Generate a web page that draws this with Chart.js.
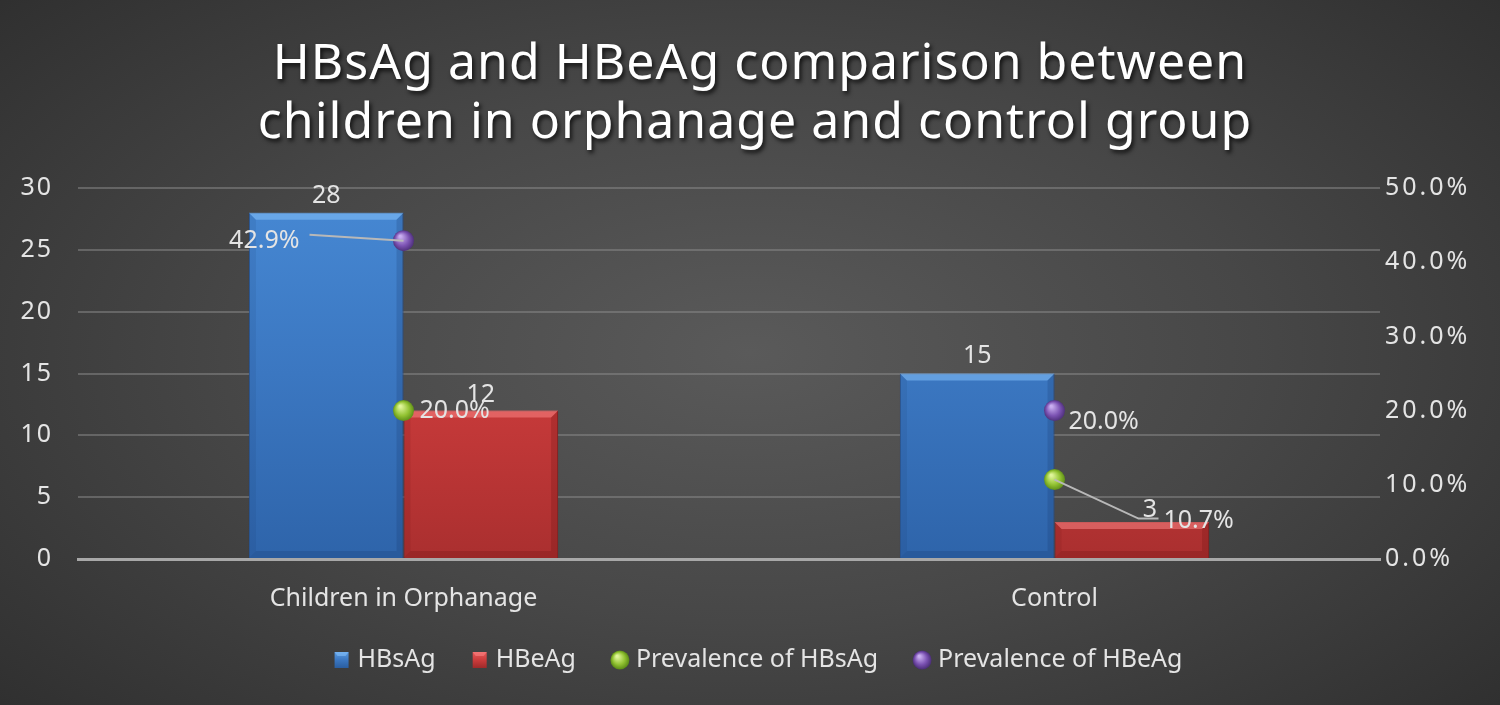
<!DOCTYPE html>
<html>
<head>
<meta charset="utf-8">
<script src="https://cdn.jsdelivr.net/npm/chart.js@4.4.0/dist/chart.umd.min.js"></script>
<style>
html,body{margin:0;padding:0;}
body{width:1500px;height:705px;overflow:hidden;background:radial-gradient(ellipse 75% 85% at 50% 50%, #5a5a5a 0%, #474747 45%, #2a2a2a 100%);}
#wrap{width:1500px;height:705px;position:relative;}
</style>
</head>
<body>
<div id="wrap"><canvas id="c" width="1500" height="705"></canvas></div>
<script>
const categories = ["Children in Orphanage", "Control"];
const hbsag = [28, 15];
const hbeag = [12, 3];
const prevHBsAg = [20.0, 10.7];
const prevHBeAg = [42.9, 20.0];
const leftTicks = [0, 5, 10, 15, 20, 25, 30];
const rightTicks = [0, 10, 20, 30, 40, 50];
const titleLines = ["HBsAg and HBeAg comparison between", "children in orphanage and control group"];

const FONT = "'Noto Sans', 'Open Sans', sans-serif";
const TXT = "#e4e4e4";

function barGrad(top, mid, bottom) {
  return function(context) {
    const chart = context.chart;
    const area = chart.chartArea;
    if (!area) return mid;
    const g = chart.ctx.createLinearGradient(0, area.top, 0, area.bottom);
    g.addColorStop(0, top);
    g.addColorStop(0.5, mid);
    g.addColorStop(1, bottom);
    return g;
  };
}
function ballGradAt(ctx, x, y, r, light, mid, dark) {
  const g = ctx.createRadialGradient(x - r * 0.3, y - r * 0.4, 1, x, y, r);
  g.addColorStop(0, light);
  g.addColorStop(0.6, mid);
  g.addColorStop(1, dark);
  return g;
}
function ballGrad(light, mid, dark) {
  return function(context) {
    const el = context.element;
    const chart = context.chart;
    if (!el || el.x === undefined || isNaN(el.x) || isNaN(el.y)) return mid;
    return ballGradAt(chart.ctx, el.x, el.y, 11, light, mid, dark);
  };
}

const seriesStyle = [
  {kind: 'rect', c: ['#5a9ae0', '#3b77c1', '#2a5ea0'], bevel: ['rgba(140,200,255,0.5)', 'rgba(20,50,100,0.2)']},
  {kind: 'rect', c: ['#e85a5a', '#cc3c3c', '#9e2a2a'], bevel: ['rgba(255,140,140,0.5)', 'rgba(90,10,10,0.2)']},
  {kind: 'ball', c: ['#dff59a', '#92c232', '#5a8a16']},
  {kind: 'ball', c: ['#c9aef0', '#7b52b2', '#4a2d76']}
];

// label placement relative to each mark (style only)
const labelStyle = {
  0: [{dx: 0, dy: -17, align: 'center'}, {dx: 0, dy: -18, align: 'center'}],
  1: [{dx: 0, dy: -16, align: 'center'}, {dx: 18, dy: -12, align: 'center'}],
  2: [{dx: 16, dy: 0, align: 'left'}, {dx: 109, dy: 41, align: 'left', lx: 84, ly: 39, hx: 104}],
  3: [{dx: -104, dy: 0, align: 'right', lx: -94, ly: -6}, {dx: 14, dy: 11, align: 'left'}]
};

const bevelPlugin = {
  id: 'bevel',
  afterDatasetDraw(chart, args) {
    const st = seriesStyle[args.index];
    if (!st || st.kind !== 'rect') return;
    const ctx = chart.ctx;
    const b = 7;
    ctx.save();
    args.meta.data.forEach(el => {
      const p = el.getProps(['x', 'y', 'base', 'width'], true);
      const l = p.x - p.width / 2, r = p.x + p.width / 2, t = Math.min(p.y, p.base), bt = Math.max(p.y, p.base);
      const bb = Math.min(b, (bt - t) / 2);
      ctx.fillStyle = st.bevel[0];
      ctx.beginPath();
      ctx.moveTo(l, t); ctx.lineTo(r, t); ctx.lineTo(r - bb, t + bb); ctx.lineTo(l + bb, t + bb); ctx.closePath();
      ctx.fill();
      ctx.fillStyle = st.bevel[1];
      ctx.beginPath();
      ctx.moveTo(l, bt); ctx.lineTo(r, bt); ctx.lineTo(r - bb, bt - bb); ctx.lineTo(l + bb, bt - bb); ctx.closePath();
      ctx.fill();
      ctx.beginPath();
      ctx.moveTo(r, t); ctx.lineTo(r, bt); ctx.lineTo(r - bb, bt - bb); ctx.lineTo(r - bb, t + bb); ctx.closePath();
      ctx.fill();
      ctx.globalAlpha = 0.5;
      ctx.beginPath();
      ctx.moveTo(l, t); ctx.lineTo(l, bt); ctx.lineTo(l + bb, bt - bb); ctx.lineTo(l + bb, t + bb); ctx.closePath();
      ctx.fill();
      ctx.globalAlpha = 1;
    });
    ctx.restore();
  }
};

const labelPlugin = {
  id: 'valueLabels',
  afterDatasetsDraw(chart) {
    const ctx = chart.ctx;
    ctx.save();
    ctx.letterSpacing = '0px';
    ctx.font = "25px " + FONT;
    ctx.fillStyle = TXT;
    ctx.textBaseline = 'middle';
    chart.data.datasets.forEach((ds, di) => {
      const meta = chart.getDatasetMeta(di);
      meta.data.forEach((el, i) => {
        const st = labelStyle[di][i];
        const v = ds.data[i];
        const txt = di >= 2 ? v.toFixed(1) + '%' : String(v);
        const bx = el.x, by = el.y;
        if (st.lx !== undefined) {
          ctx.strokeStyle = '#b8b8b8';
          ctx.lineWidth = 2;
          ctx.beginPath();
          ctx.moveTo(bx, by);
          ctx.lineTo(bx + st.lx, by + st.ly);
          if (st.hx !== undefined) ctx.lineTo(bx + st.hx, by + st.ly);
          ctx.stroke();
        }
        ctx.textAlign = st.align;
        ctx.fillText(txt, bx + st.dx, by + st.dy);
      });
    });
    ctx.restore();
  }
};

const titlePlugin = {
  id: 'bigTitle',
  afterDraw(chart) {
    const ctx = chart.ctx;
    ctx.save();
    ctx.font = "50px " + FONT;
    ctx.letterSpacing = '1px';
    ctx.textAlign = 'center';
    ctx.textBaseline = 'alphabetic';
    ctx.shadowColor = 'rgba(0,0,0,0.75)';
    ctx.shadowBlur = 4;
    ctx.shadowOffsetX = 2;
    ctx.shadowOffsetY = 3;
    ctx.fillStyle = '#ffffff';
    ctx.fillText(titleLines[0], 760, 79);
    ctx.fillText(titleLines[1], 755, 138);
    ctx.restore();
  }
};

const legendPlugin = {
  id: 'customLegend',
  afterDraw(chart) {
    const ctx = chart.ctx;
    ctx.save();
    ctx.letterSpacing = '0px';
    ctx.font = "25px " + FONT;
    ctx.textBaseline = 'middle';
    ctx.textAlign = 'left';
    const iconW = 16, gapIcon = 8, gapItem = 36, y = 660;
    const items = chart.data.datasets.map((ds, i) => ({text: ds.label, w: ctx.measureText(ds.label).width, st: seriesStyle[i]}));
    const total = items.reduce((s, it) => s + iconW + gapIcon + it.w, 0) + gapItem * (items.length - 1);
    let x = 758 - total / 2;
    items.forEach(it => {
      const cx = x + iconW / 2;
      if (it.st.kind === 'rect') {
        const g = ctx.createLinearGradient(0, y - 8, 0, y + 8);
        g.addColorStop(0, it.st.c[0]); g.addColorStop(0.5, it.st.c[1]); g.addColorStop(1, it.st.c[2]);
        ctx.fillStyle = g;
        ctx.fillRect(cx - 7, y - 8, 14, 16);
        ctx.fillStyle = it.st.bevel[0];
        ctx.beginPath();
        ctx.moveTo(cx - 7, y - 8); ctx.lineTo(cx + 7, y - 8); ctx.lineTo(cx + 4, y - 4); ctx.lineTo(cx - 4, y - 4); ctx.closePath();
        ctx.fill();
      } else {
        ctx.fillStyle = ballGradAt(ctx, cx, y, 9.5, it.st.c[0], it.st.c[1], it.st.c[2]);
        ctx.beginPath();
        ctx.arc(cx, y, 9.5, 0, Math.PI * 2);
        ctx.fill();
      }
      ctx.fillStyle = TXT;
      ctx.fillText(it.text, x + iconW + gapIcon, y);
      x += iconW + gapIcon + it.w + gapItem;
    });
    ctx.restore();
  }
};

function patchScales(chart) {
  Object.values(chart.scales || {}).forEach(s => {
    if (s._lsPatched) return;
    const orig = s.drawLabels;
    const ls = s.id === 'x' ? '0px' : (s.id === 'y1' ? '3px' : '2px');
    s.drawLabels = function(area) {
      const c = this.ctx;
      const prev = c.letterSpacing;
      c.letterSpacing = ls;
      orig.call(this, area);
      c.letterSpacing = prev;
    };
    s._lsPatched = true;
  });
}
const spacingPlugin = {
  id: 'tickSpacing',
  beforeDraw(chart) { patchScales(chart); }
};

new Chart(document.getElementById('c'), {
  data: {
    labels: categories,
    datasets: [
      {type: 'bar', label: 'HBsAg', data: hbsag, yAxisID: 'y',
       backgroundColor: barGrad('#4789d4', '#3b77c1', '#2e64aa'), borderColor: '#2a5a9a', borderWidth: 1,
       categoryPercentage: 0.475, barPercentage: 1.0, order: 2},
      {type: 'bar', label: 'HBeAg', data: hbeag, yAxisID: 'y',
       backgroundColor: barGrad('#de4444', '#cc3c3c', '#aa2f2f'), borderColor: '#922626', borderWidth: 1,
       categoryPercentage: 0.475, barPercentage: 1.0, order: 2},
      {type: 'line', label: 'Prevalence of HBsAg', data: prevHBsAg, yAxisID: 'y1', showLine: false,
       pointRadius: 10.5, pointHoverRadius: 10.5, pointBorderWidth: 0,
       pointBackgroundColor: ballGrad('#dff59a', '#92c232', '#5a8a16'), backgroundColor: '#92c232', borderColor: '#92c232', order: 1},
      {type: 'line', label: 'Prevalence of HBeAg', data: prevHBeAg, yAxisID: 'y1', showLine: false,
       pointRadius: 10.5, pointHoverRadius: 10.5, pointBorderWidth: 0,
       pointBackgroundColor: ballGrad('#c9aef0', '#7b52b2', '#4a2d76'), backgroundColor: '#7b52b2', borderColor: '#7b52b2', order: 1}
    ]
  },
  options: {
    responsive: false,
    animation: false,
    layout: {padding: {left: 18, right: 20, top: 188, bottom: 74}},
    plugins: {
      title: {display: false},
      legend: {display: false},
      tooltip: {enabled: false}
    },
    scales: {
      x: {offset: true, grid: {display: false}, border: {display: true, color: '#a8a8a8', width: 3},
          ticks: {color: TXT, font: {family: FONT, size: 25}, padding: 17}},
      y: {position: 'left', min: 0, max: 30,
          afterBuildTicks: (ax) => { ax.ticks = leftTicks.map(v => ({value: v})); },
          afterFit: (ax) => { ax.width = 60; },
          grid: {color: 'rgba(140,140,140,0.5)', lineWidth: 2, drawTicks: false},
          border: {display: false},
          ticks: {color: TXT, font: {family: FONT, size: 25}, padding: 25}},
      y1: {position: 'right', min: 0, max: 50,
          afterBuildTicks: (ax) => { ax.ticks = rightTicks.map(v => ({value: v})); },
          afterFit: (ax) => { ax.width = 100; },
          grid: {display: false, drawTicks: false}, border: {display: false},
          ticks: {color: TXT, font: {family: FONT, size: 25}, padding: 5,
                  callback: (v) => v.toFixed(1) + '%'}}
    }
  },
  plugins: [spacingPlugin, bevelPlugin, labelPlugin, titlePlugin, legendPlugin]
});
</script>
</body>
</html>
